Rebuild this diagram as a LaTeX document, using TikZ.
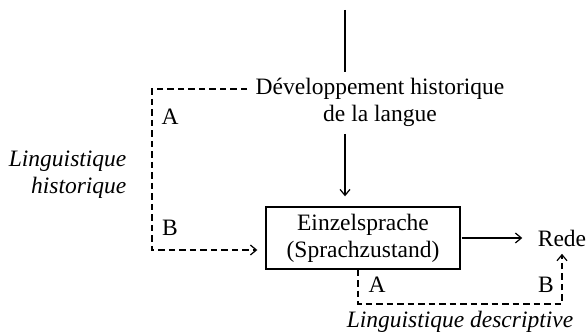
\documentclass[tikz,border=0pt]{standalone}
\usepackage{fontspec}
\setmainfont{Liberation Serif}
\usetikzlibrary{positioning, arrows.meta}

\begin{document}
\begin{tikzpicture}[
    x=1pt, y=1pt, line width=1.2pt,
    >={Straight Barb[length=6pt, width=10pt]},
    font=\fontsize{23.5}{27}\selectfont,
    stage/.style={align=center, inner sep=0pt},
    level/.style={draw, line width=1.4pt, align=center, minimum width=194pt, minimum height=62pt, inner sep=0pt},
    tag/.style={inner sep=0pt},
    branch/.style={font=\fontsize{23.5}{27}\selectfont\itshape, inner sep=0pt},
    track/.style={dash pattern=on 6.5pt off 4pt}
]
\useasboundingbox (0,0) rectangle (586,332);

    % Nodes
    \node[stage] (dev) at (380,230) {Développement historique\\de la langue};
    \node[level] (lang) at (363,94) {Einzelsprache\\(Sprachzustand)};
    \node[tag, anchor=base] (rede) at (562,85) {Rede};

    \coordinate (top) at (345,322);
    \coordinate (hl) at (152,243);
    \coordinate (dl) at (358,28);
    \coordinate (dr) at (562,28);

    % Labels
    \node[tag] (ha) at (170,215) {A};
    \node[tag] (hb) at (170,104) {B};
    \node[tag] (da) at (377,47) {A};
    \node[tag] (db) at (546,47) {B};
    \node[branch, align=right, anchor=east] (hist) at (127,157) {Linguistique\\historique};
    \node[branch] (desc) at (460,10) {Linguistique descriptive};

    % Solid connectors
    \draw (top) -- ([yshift=5pt]dev.north -| top);
    \draw[->, shorten <=7pt, shorten >=10pt] (dev.south -| top) -- (lang.north -| top);
    \draw[->, shorten <=1pt, shorten >=15pt] (lang.east) -- (rede.west |- lang.east);

    % Dashed connectors
    % historique: A -> B
    \draw[track, ->, shorten >=8pt] ([xshift=-8pt]dev.west |- hl) -- (hl) |- ([yshift=-12pt]lang.west);
    % descriptive: A -> B
    \draw[track, ->, shorten >=6pt] (lang.south -| dl) -- (dl) -- (dr) -- (rede.south -| dr);

\end{tikzpicture}
\end{document}
